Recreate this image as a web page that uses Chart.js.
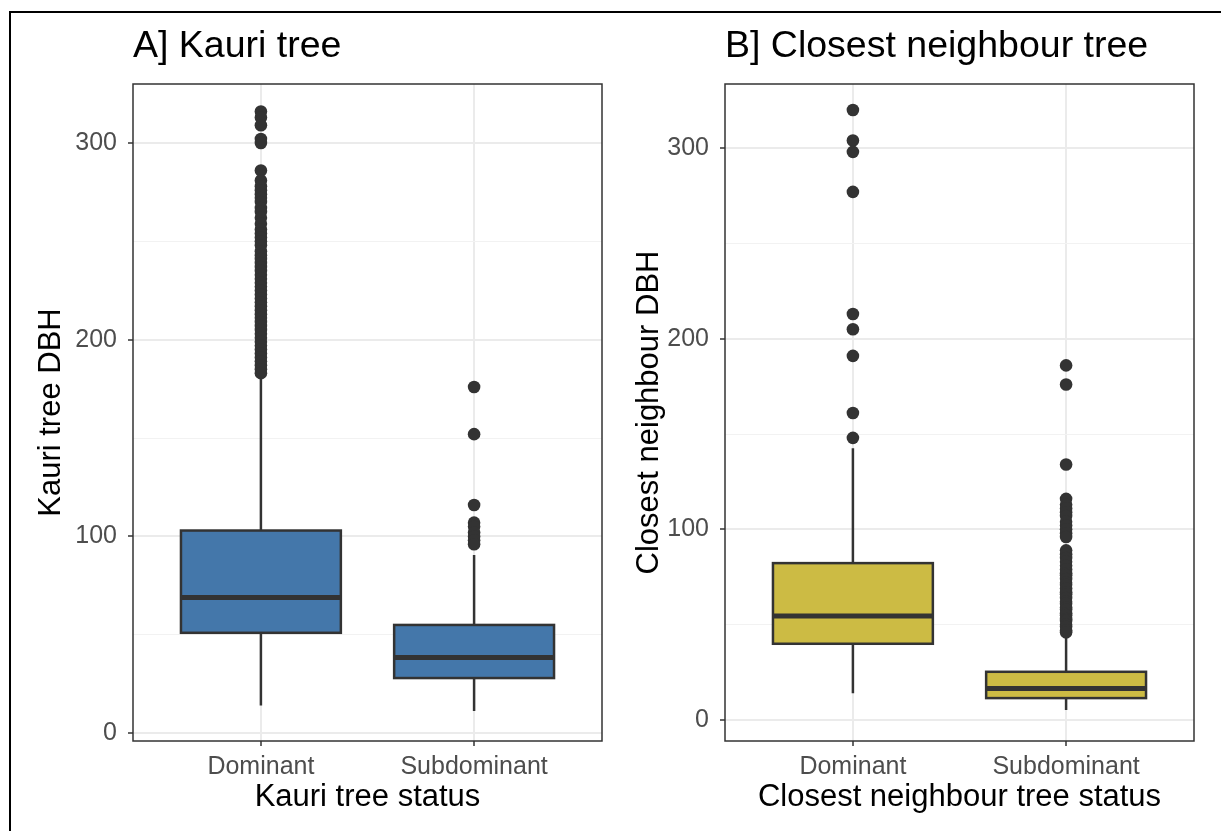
<!DOCTYPE html>
<html>
<head>
<meta charset="utf-8">
<script src="https://cdn.jsdelivr.net/npm/chart.js@4.4.0/dist/chart.umd.min.js"></script>
<style>
  body { margin: 0; background: #fff; width: 1221px; height: 831px; overflow: hidden; position: relative; }
  #frame { position: absolute; left: 9px; top: 11px; width: 1300px; height: 900px; border-left: 2px solid #000; border-top: 2px solid #000; }
  .panel { position: absolute; top: 0; height: 831px; }
  #panelA { left: 0; width: 610px; }
  #panelB { left: 610px; width: 611px; }
</style>
</head>
<body>
<div id="frame"></div>
<div class="panel" id="panelA"><canvas id="chartA"></canvas></div>
<div class="panel" id="panelB"><canvas id="chartB"></canvas></div>
<script>
const categories = ['Dominant', 'Subdominant']
const yMajorTicks = [0, 100, 200, 300]
const yMinorTicks = [50, 150, 250]

// A] Kauri tree: box stats, one value per category
const kauriLow = [14, 11.3]
const kauriQ1 = [51, 28]
const kauriMedian = [69, 38.5]
const kauriQ3 = [103, 55]
const kauriHigh = [181, 90.5]
const kauriOutDominant = [316, 313, 309, 302, 300, 286, 281, 278, 276, 274, 272, 270, 267, 265, 262, 259, 256, 254, 252, 250,
  248, 245, 243, 241, 239, 237, 235, 233, 231, 229, 227, 225, 223, 221, 219, 217, 215, 213, 211, 209,
  207, 205, 203, 201, 199, 197, 195, 193, 191, 189, 187, 185, 183]
const kauriOutSubdominant = [176, 152, 116, 107, 105, 102, 100, 98, 96]

// B] Closest neighbour tree
const neighLow = [14, 5.2]
const neighQ1 = [40, 11.5]
const neighMedian = [54.5, 16.6]
const neighQ3 = [82.3, 25.3]
const neighHigh = [142.5, 45.5]
const neighOutDominant = [320, 304, 298, 277, 213, 205, 191, 161, 148]
const neighOutSubdominant = [186, 176, 134, 116, 113, 111, 109, 107, 104, 102, 100, 98, 96, 89, 87, 85, 83, 81, 79, 77,
  76, 74, 72, 71, 69, 67, 66, 64, 62, 61, 59, 58, 56, 55, 53, 52, 50, 49, 47, 46]

Chart.defaults.font.family = '"Liberation Sans", Arial, sans-serif'

function boxPlugin(stats, fill) {
  return {
    id: 'boxes',
    beforeDatasetsDraw(chart) {
      const ctx = chart.ctx
      const x = chart.scales.x
      const y = chart.scales.y
      ctx.save()
      ctx.strokeStyle = '#333333'
      stats.median.forEach((m, i) => {
        const cx = x.getPixelForValue(i + 1)
        const left = x.getPixelForValue(i + 1 - 0.375)
        const right = x.getPixelForValue(i + 1 + 0.375)
        const yLow = y.getPixelForValue(stats.low[i])
        const yQ1 = y.getPixelForValue(stats.q1[i])
        const yMed = y.getPixelForValue(m)
        const yQ3 = y.getPixelForValue(stats.q3[i])
        const yHigh = y.getPixelForValue(stats.high[i])
        ctx.lineWidth = 2.5
        ctx.beginPath()
        ctx.moveTo(cx, yHigh); ctx.lineTo(cx, yQ3)
        ctx.moveTo(cx, yQ1); ctx.lineTo(cx, yLow)
        ctx.stroke()
        ctx.fillStyle = fill
        ctx.fillRect(left, yQ3, right - left, yQ1 - yQ3)
        ctx.strokeRect(left, yQ3, right - left, yQ1 - yQ3)
        ctx.lineWidth = 5
        ctx.beginPath()
        ctx.moveTo(left, yMed); ctx.lineTo(right, yMed)
        ctx.stroke()
      })
      ctx.restore()
    },
    afterDatasetsDraw(chart) {
      const a = chart.chartArea
      const ctx = chart.ctx
      ctx.save()
      ctx.strokeStyle = '#333333'
      ctx.lineWidth = 1.5
      ctx.strokeRect(a.left, a.top, a.right - a.left, a.bottom - a.top)
      ctx.restore()
    }
  }
}

function makeChart(id, cfg) {
  const pts = (vals, cat) => vals.map(v => ({ x: cat, y: v }))
  return new Chart(document.getElementById(id), {
    type: 'scatter',
    data: {
      datasets: [
        { data: pts(cfg.outDominant, 1), pointRadius: 6.3, pointBackgroundColor: '#333333', pointBorderWidth: 0 },
        { data: pts(cfg.outSubdominant, 2), pointRadius: 6.3, pointBackgroundColor: '#333333', pointBorderWidth: 0 }
      ]
    },
    plugins: [boxPlugin(cfg.stats, cfg.fill)],
    options: {
      responsive: true,
      maintainAspectRatio: false,
      animation: false,
      layout: { padding: { left: 0, right: cfg.padRight, top: 0, bottom: 0 } },
      plugins: {
        legend: { display: false },
        tooltip: { enabled: false },
        title: {
          display: true, text: cfg.title, align: 'start', fullSize: false, color: '#000',
          font: { size: 37.5, weight: 'normal' }, padding: { top: 24, bottom: 15 }
        }
      },
      scales: {
        x: {
          type: 'linear', min: 0.4, max: 2.6,
          afterBuildTicks: s => { s.ticks = categories.map((c, i) => ({ value: i + 1 })) },
          afterFit: s => { s.height = 90 },
          ticks: { callback: v => categories[v - 1], color: '#4d4d4d', font: { size: 25 }, padding: 6, maxRotation: 0, autoSkip: false },
          grid: { color: '#ebebeb', lineWidth: 2, tickColor: '#333333', tickLength: 5, tickWidth: 1.5 },
          border: { display: false },
          title: { display: true, text: cfg.xTitle, color: '#000', font: { size: 31 }, padding: 15 }
        },
        y: {
          min: cfg.yMin, max: cfg.yMax,
          afterBuildTicks: s => { s.ticks = yMajorTicks.concat(yMinorTicks).sort((a, b) => a - b).map(v => ({ value: v })) },
          afterFit: s => { s.width = cfg.yWidth },
          ticks: {
            callback: v => yMajorTicks.includes(v) ? String(v) : '',
            color: '#4d4d4d', font: { size: 25 }, padding: 11, autoSkip: false
          },
          grid: {
            color: c => yMajorTicks.includes(c.tick.value) ? '#ebebeb' : '#f2f2f2',
            lineWidth: c => yMajorTicks.includes(c.tick.value) ? 2 : 1,
            tickColor: c => yMajorTicks.includes(c.tick.value) ? '#333333' : 'rgba(0,0,0,0)',
            tickLength: 5, tickWidth: 1.5
          },
          border: { display: false },
          title: { display: true, text: cfg.yTitle, color: '#000', font: { size: 31 }, padding: cfg.yTitlePad }
        }
      }
    }
  })
}

makeChart('chartA', {
  title: 'A] Kauri tree', xTitle: 'Kauri tree status', yTitle: 'Kauri tree DBH',
  stats: { low: kauriLow, q1: kauriQ1, median: kauriMedian, q3: kauriQ3, high: kauriHigh },
  outDominant: kauriOutDominant, outSubdominant: kauriOutSubdominant,
  fill: '#4477AA', yMin: -4, yMax: 330, yWidth: 133, yTitlePad: 33, padRight: 8
})

makeChart('chartB', {
  title: 'B] Closest neighbour tree', xTitle: 'Closest neighbour tree status', yTitle: 'Closest neighbour DBH',
  stats: { low: neighLow, q1: neighQ1, median: neighMedian, q3: neighQ3, high: neighHigh },
  outDominant: neighOutDominant, outSubdominant: neighOutSubdominant,
  fill: '#CCBB44', yMin: -11, yMax: 333.6, yWidth: 115, yTitlePad: 21, padRight: 27
})
</script>
</body>
</html>
